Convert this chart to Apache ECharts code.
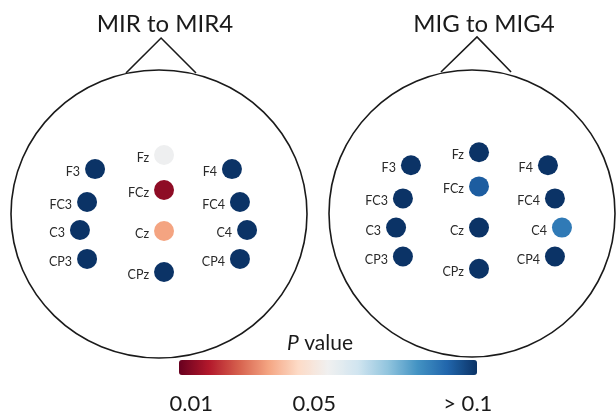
<!DOCTYPE html>
<html>
<head>
<meta charset="utf-8">
<script src="https://cdn.jsdelivr.net/npm/echarts@6/dist/echarts.min.js"></script>
<style>html,body{margin:0;padding:0;background:#fff}#c{width:616px;height:415px}</style>
</head>
<body>
<div id="c"></div>
<script>
// ---- data ----
var electrodes = ['F3','FC3','C3','CP3','Fz','FCz','Cz','CPz','F4','FC4','C4','CP4'];
// head-normalised electrode positions (head outline radius = 1)
var leftX  = [-0.432,-0.486,-0.534,-0.486, 0.034, 0.034, 0.034, 0.034, 0.493, 0.547, 0.595, 0.547];
var leftY  = [ 0.312, 0.083,-0.111,-0.312, 0.410, 0.167,-0.118,-0.403, 0.312, 0.083,-0.111,-0.312];
var rightX = [-0.427,-0.483,-0.531,-0.483, 0.049, 0.049, 0.049, 0.049, 0.531, 0.580, 0.629, 0.580];
var rightY = [ 0.336, 0.105,-0.098,-0.300, 0.427, 0.189,-0.098,-0.385, 0.336, 0.105,-0.098,-0.300];
// P values (>0.1 shown at the top of the scale)
var leftP  = [0.103,0.103,0.103,0.103, 0.055,0.011,0.035,0.103, 0.103,0.103,0.103,0.103];
var rightP = [0.103,0.103,0.103,0.103, 0.103,0.095,0.103,0.103, 0.103,0.103,0.089,0.103];
var noseLeft  = [[-0.223,0.979],[0.014,1.222],[0.250,0.979]];
var noseRight = [[-0.217,0.986],[0.035,1.231],[0.273,0.986]];
var titles = ['MIR to MIR4','MIG to MIG4'];
var scaleMin = 0.006, scaleMax = 0.103;
var tickValues = [0.01, 0.05, 0.1];
var tickLabels = ['0.01','0.05','> 0.1'];
var rdbu = ['#67001f','#b2182b','#d6604d','#f4a582','#fddbc7','#f0f0f0','#d1e5f0','#92c5de','#4393c3','#2166ac','#0b3366'];

var FONT = 'Lato, "Open Sans", sans-serif';

function pts(xs, ys, ps){
  return electrodes.map(function(n,i){ return {name:n, value:[xs[i], ys[i], ps[i]]}; });
}
function headSeries(idx, nose){
  return {
    type:'custom', xAxisIndex:idx, yAxisIndex:idx, silent:true, clip:false, z:1,
    data:[[0,0]],
    renderItem:function(params, api){
      var c = api.coord([0,0]);
      var s = api.size([1,1]);
      var p = nose.map(function(q){ return api.coord(q); });
      return {type:'group', children:[
        {type:'ellipse', shape:{cx:c[0], cy:c[1], rx:s[0], ry:s[1]},
         style:{fill:'none', stroke:'#1a1a1a', lineWidth:1.6}},
        {type:'polyline', shape:{points:p},
         style:{fill:'none', stroke:'#1a1a1a', lineWidth:1.6}}
      ]};
    }
  };
}
function scatterSeries(idx, data){
  return {
    type:'scatter', xAxisIndex:idx, yAxisIndex:idx, z:3,
    symbolSize:20, data:data, itemStyle:{opacity:1},
    label:{show:true, position:'left', distance:5, offset:[0,3],
      formatter:'{b}', color:'#2a2a2a', fontSize:12.5, fontFamily:FONT}
  };
}
function hiddenAxis(idx, min, max){
  return {gridIndex:idx, type:'value', min:min, max:max, show:false};
}

var chart = echarts.init(document.getElementById('c'), null, {renderer:'canvas'});
chart.setOption({
  animation:false,
  backgroundColor:'#ffffff',
  title:[
    {text:titles[0], left:160, top:7, textAlign:'center',
     textStyle:{fontFamily:FONT, fontSize:24, fontWeight:'normal', color:'#1a1a1a'}},
    {text:titles[1], left:479, top:7, textAlign:'center',
     textStyle:{fontFamily:FONT, fontSize:24, fontWeight:'normal', color:'#1a1a1a'}},
    {text:'{i|P} value', left:315, top:328, textAlign:'center',
     textStyle:{fontFamily:FONT, fontSize:21, fontWeight:'normal', color:'#1a1a1a',
       rich:{i:{fontStyle:'italic', fontFamily:FONT, fontSize:21, color:'#1a1a1a'}}}}
  ],
  grid:[
    {left:11, top:70, width:296, height:288},
    {left:329, top:70, width:286, height:287},
    {left:179, top:360, width:298, height:15}
  ],
  xAxis:[
    hiddenAxis(0,-1,1), hiddenAxis(1,-1,1),
    {gridIndex:2, type:'value', min:scaleMin, max:scaleMax, position:'bottom',
     axisLine:{show:false}, axisTick:{show:false}, splitLine:{show:false},
     axisLabel:{customValues:tickValues, margin:18, fontFamily:FONT, fontSize:22, color:'#1a1a1a',
       formatter:function(v){ var i = tickValues.indexOf(v); return i>=0 ? tickLabels[i] : ''; }}}
  ],
  yAxis:[
    hiddenAxis(0,-1,1), hiddenAxis(1,-1,1), hiddenAxis(2,0,1)
  ],
  visualMap:{
    type:'continuous', min:scaleMin, max:scaleMax, dimension:2, seriesIndex:[2,3],
    orient:'horizontal', left:179, top:360, itemWidth:15, itemHeight:298,
    calculable:false, hoverLink:false, padding:0, text:null, showLabel:false,
    inRange:{color:rdbu}
  },
  series:[
    headSeries(0, noseLeft),
    headSeries(1, noseRight),
    scatterSeries(0, pts(leftX, leftY, leftP)),
    scatterSeries(1, pts(rightX, rightY, rightP))
  ]
});
</script>
</body>
</html>
